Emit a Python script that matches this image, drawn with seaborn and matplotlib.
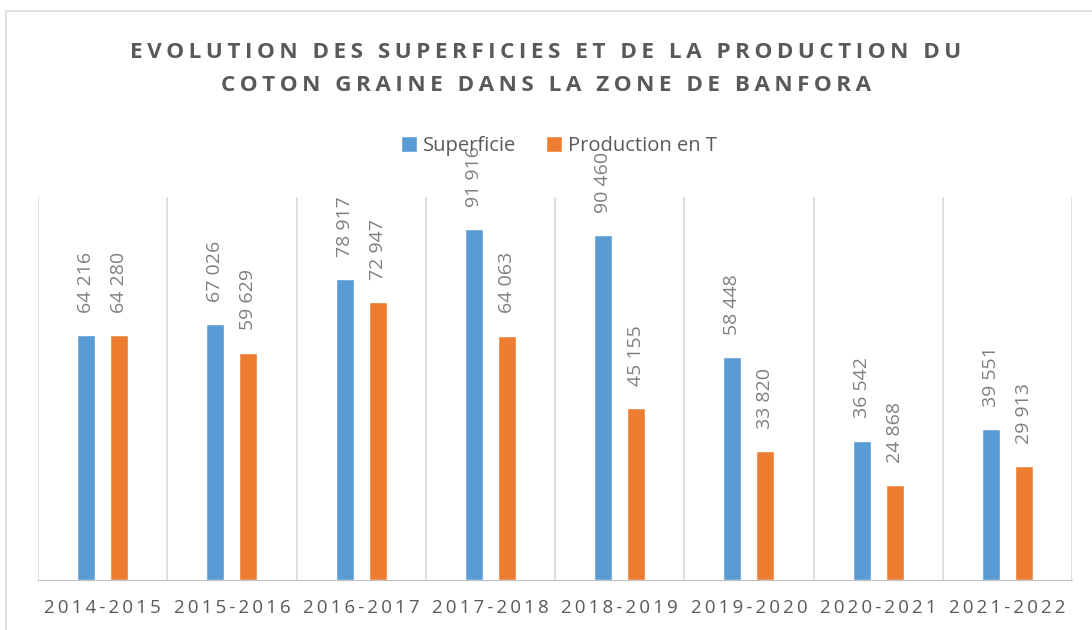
import pandas as pd
import matplotlib.pyplot as plt
import seaborn as sns
from matplotlib.patches import Rectangle

campagnes = ["2014-2015", "2015-2016", "2016-2017", "2017-2018",
             "2018-2019", "2019-2020", "2020-2021", "2021-2022"]
superficie = [64216, 67026, 78917, 91916, 90460, 58448, 36542, 39551]
production = [64280, 59629, 72947, 64063, 45155, 33820, 24868, 29913]
series = ["Superficie", "Production en T"]
couleurs = ["#5B9BD5", "#ED7D31"]

titre = "EVOLUTION DES SUPERFICIES ET DE LA PRODUCTION DU\nCOTON GRAINE DANS LA ZONE DE BANFORA"

THIN = "\u2009"


def espacer(txt):
    # imitation de l'espacement des lettres d'Excel
    return "\n".join(THIN.join(ligne) for ligne in txt.split("\n"))


df = pd.DataFrame({
    "campagne": campagnes * 2,
    "valeur": superficie + production,
    "serie": [series[0]] * len(campagnes) + [series[1]] * len(campagnes),
})

sns.set_style("white")
plt.rcParams["font.family"] = ["Open Sans", "DejaVu Sans"]

gris = "#595959"
fig = plt.figure(figsize=(10.92, 6.3), dpi=100)
ax = fig.add_axes([38 / 1092, 1 - 580 / 630, (1072 - 38) / 1092, (580 - 197) / 630])

sns.barplot(data=df, x="campagne", y="valeur", hue="serie", palette=couleurs,
            saturation=1, width=0.51, gap=0.45, ax=ax, legend=True)

for cont in ax.containers:
    labels = [f"{int(v):,}".replace(",", " ") for v in cont.datavalues]
    ax.bar_label(cont, labels=labels, rotation=90, padding=16,
                 fontsize=14, color="#7F7F7F")

ax.set_ylim(0, 100400)
ax.set_xlim(-0.5, len(campagnes) - 0.5)
ax.set_xlabel("")
ax.set_ylabel("")
ax.set_yticks([])
ax.set_xticks(range(len(campagnes)))
ax.set_xticklabels([espacer(c) for c in campagnes])
for b in range(len(campagnes) + 1):
    ax.axvline(b - 0.5, color="#D9D9D9", lw=1.2, zorder=0)
for s in ["top", "right", "left"]:
    ax.spines[s].set_visible(False)
ax.spines["bottom"].set_color("#BFBFBF")
ax.tick_params(axis="x", length=0, pad=14, labelsize=13.5, labelcolor=gris)

ax.legend(loc="center", bbox_to_anchor=(0.512, 1 - 146 / 630), bbox_transform=fig.transFigure,
          ncol=2, frameon=False, fontsize=14.5, labelcolor=gris, handlelength=0.8,
          handleheight=0.8, handletextpad=0.3, columnspacing=1.5)

fig.text(0.5, 1 - 69 / 630, espacer(titre), ha="center", va="center", fontsize=16.2,
         fontweight="bold", color=gris, linespacing=1.72)

fig.patches.append(Rectangle((6 / 1092, -0.1), 1.2, 1 - 11 / 630 + 0.1,
                             transform=fig.transFigure, fill=False,
                             edgecolor="#D9D9D9", lw=1.2))

fig.savefig("out.png", dpi=100)
